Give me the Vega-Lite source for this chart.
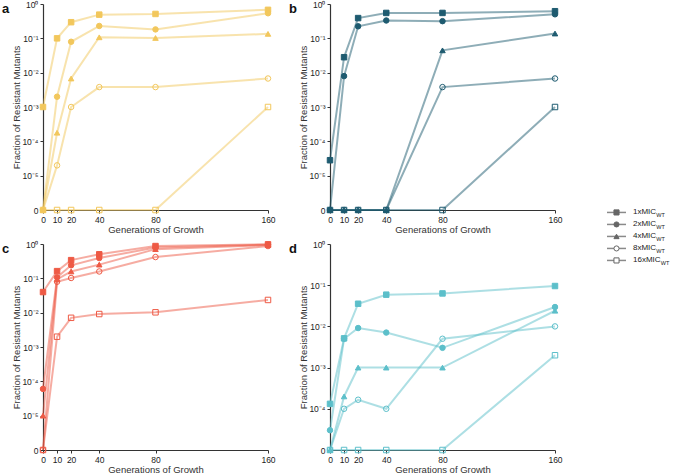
{
  "$schema": "https://vega.github.io/schema/vega-lite/v6.json",
  "background": "white",
  "padding": {"left": 2, "top": 0, "right": 0, "bottom": 0},
  "spacing": 43,
  "config": {
    "view": {"stroke": null},
    "font": "Liberation Sans",
    "axis": {
      "grid": false,
      "domainColor": "#333333",
      "domainWidth": 1.2,
      "tickColor": "#333333",
      "tickSize": 3,
      "tickWidth": 1,
      "labelFont": "Liberation Sans",
      "labelFontSize": 8.5,
      "labelColor": "#222222",
      "labelFlush": false,
      "labelOverlap": false,
      "labelPadding": 2,
      "titleFont": "Liberation Sans",
      "titleFontSize": 9.5,
      "titleFontWeight": "normal",
      "titleColor": "#333333",
      "titlePadding": 0.5
    },
    "title": {
      "font": "Liberation Sans",
      "fontSize": 13,
      "fontWeight": "bold",
      "color": "#111111",
      "anchor": "start",
      "frame": "group",
      "offset": -16,
      "dx": -41
    }
  },
  "datasets": {
    "a": [
      {"gen": 0, "series": "1xMIC", "log10_fraction": -3},
      {"gen": 10, "series": "1xMIC", "log10_fraction": -1.0},
      {"gen": 20, "series": "1xMIC", "log10_fraction": -0.53},
      {"gen": 40, "series": "1xMIC", "log10_fraction": -0.31},
      {"gen": 80, "series": "1xMIC", "log10_fraction": -0.29},
      {"gen": 160, "series": "1xMIC", "log10_fraction": -0.17},
      {"gen": 0, "series": "2xMIC", "log10_fraction": -6},
      {"gen": 10, "series": "2xMIC", "log10_fraction": -2.7},
      {"gen": 20, "series": "2xMIC", "log10_fraction": -1.1},
      {"gen": 40, "series": "2xMIC", "log10_fraction": -0.64},
      {"gen": 80, "series": "2xMIC", "log10_fraction": -0.74},
      {"gen": 160, "series": "2xMIC", "log10_fraction": -0.27},
      {"gen": 0, "series": "4xMIC", "log10_fraction": -6},
      {"gen": 10, "series": "4xMIC", "log10_fraction": -3.75},
      {"gen": 20, "series": "4xMIC", "log10_fraction": -2.17},
      {"gen": 40, "series": "4xMIC", "log10_fraction": -0.97},
      {"gen": 80, "series": "4xMIC", "log10_fraction": -0.99},
      {"gen": 160, "series": "4xMIC", "log10_fraction": -0.87},
      {"gen": 0, "series": "8xMIC", "log10_fraction": -6},
      {"gen": 10, "series": "8xMIC", "log10_fraction": -4.7},
      {"gen": 20, "series": "8xMIC", "log10_fraction": -3.0},
      {"gen": 40, "series": "8xMIC", "log10_fraction": -2.42},
      {"gen": 80, "series": "8xMIC", "log10_fraction": -2.42},
      {"gen": 160, "series": "8xMIC", "log10_fraction": -2.17},
      {"gen": 0, "series": "16xMIC", "log10_fraction": -6},
      {"gen": 10, "series": "16xMIC", "log10_fraction": -6},
      {"gen": 20, "series": "16xMIC", "log10_fraction": -6},
      {"gen": 40, "series": "16xMIC", "log10_fraction": -6},
      {"gen": 80, "series": "16xMIC", "log10_fraction": -6},
      {"gen": 160, "series": "16xMIC", "log10_fraction": -3.0}
    ],
    "b": [
      {"gen": 0, "series": "1xMIC", "log10_fraction": -4.55},
      {"gen": 10, "series": "1xMIC", "log10_fraction": -1.55},
      {"gen": 20, "series": "1xMIC", "log10_fraction": -0.41},
      {"gen": 40, "series": "1xMIC", "log10_fraction": -0.26},
      {"gen": 80, "series": "1xMIC", "log10_fraction": -0.26},
      {"gen": 160, "series": "1xMIC", "log10_fraction": -0.21},
      {"gen": 0, "series": "2xMIC", "log10_fraction": -6},
      {"gen": 10, "series": "2xMIC", "log10_fraction": -2.1},
      {"gen": 20, "series": "2xMIC", "log10_fraction": -0.65},
      {"gen": 40, "series": "2xMIC", "log10_fraction": -0.48},
      {"gen": 80, "series": "2xMIC", "log10_fraction": -0.5},
      {"gen": 160, "series": "2xMIC", "log10_fraction": -0.3},
      {"gen": 0, "series": "4xMIC", "log10_fraction": -6},
      {"gen": 10, "series": "4xMIC", "log10_fraction": -6},
      {"gen": 20, "series": "4xMIC", "log10_fraction": -6},
      {"gen": 40, "series": "4xMIC", "log10_fraction": -6},
      {"gen": 80, "series": "4xMIC", "log10_fraction": -1.35},
      {"gen": 160, "series": "4xMIC", "log10_fraction": -0.86},
      {"gen": 0, "series": "8xMIC", "log10_fraction": -6},
      {"gen": 10, "series": "8xMIC", "log10_fraction": -6},
      {"gen": 20, "series": "8xMIC", "log10_fraction": -6},
      {"gen": 40, "series": "8xMIC", "log10_fraction": -6},
      {"gen": 80, "series": "8xMIC", "log10_fraction": -2.42},
      {"gen": 160, "series": "8xMIC", "log10_fraction": -2.17},
      {"gen": 0, "series": "16xMIC", "log10_fraction": -6},
      {"gen": 10, "series": "16xMIC", "log10_fraction": -6},
      {"gen": 20, "series": "16xMIC", "log10_fraction": -6},
      {"gen": 40, "series": "16xMIC", "log10_fraction": -6},
      {"gen": 80, "series": "16xMIC", "log10_fraction": -6},
      {"gen": 160, "series": "16xMIC", "log10_fraction": -3.0}
    ],
    "c": [
      {"gen": 0, "series": "1xMIC", "log10_fraction": -1.4},
      {"gen": 10, "series": "1xMIC", "log10_fraction": -0.79},
      {"gen": 20, "series": "1xMIC", "log10_fraction": -0.47},
      {"gen": 40, "series": "1xMIC", "log10_fraction": -0.3},
      {"gen": 80, "series": "1xMIC", "log10_fraction": -0.06},
      {"gen": 160, "series": "1xMIC", "log10_fraction": -0.01},
      {"gen": 0, "series": "2xMIC", "log10_fraction": -4.22},
      {"gen": 10, "series": "2xMIC", "log10_fraction": -0.97},
      {"gen": 20, "series": "2xMIC", "log10_fraction": -0.62},
      {"gen": 40, "series": "2xMIC", "log10_fraction": -0.41},
      {"gen": 80, "series": "2xMIC", "log10_fraction": -0.1},
      {"gen": 160, "series": "2xMIC", "log10_fraction": -0.02},
      {"gen": 0, "series": "4xMIC", "log10_fraction": -5.0},
      {"gen": 10, "series": "4xMIC", "log10_fraction": -1.03},
      {"gen": 20, "series": "4xMIC", "log10_fraction": -0.8},
      {"gen": 40, "series": "4xMIC", "log10_fraction": -0.6},
      {"gen": 80, "series": "4xMIC", "log10_fraction": -0.15},
      {"gen": 160, "series": "4xMIC", "log10_fraction": -0.03},
      {"gen": 0, "series": "8xMIC", "log10_fraction": -6},
      {"gen": 10, "series": "8xMIC", "log10_fraction": -1.1},
      {"gen": 20, "series": "8xMIC", "log10_fraction": -0.99},
      {"gen": 40, "series": "8xMIC", "log10_fraction": -0.8},
      {"gen": 80, "series": "8xMIC", "log10_fraction": -0.38},
      {"gen": 160, "series": "8xMIC", "log10_fraction": -0.06},
      {"gen": 0, "series": "16xMIC", "log10_fraction": -6},
      {"gen": 10, "series": "16xMIC", "log10_fraction": -2.7},
      {"gen": 20, "series": "16xMIC", "log10_fraction": -2.15},
      {"gen": 40, "series": "16xMIC", "log10_fraction": -2.04},
      {"gen": 80, "series": "16xMIC", "log10_fraction": -1.99},
      {"gen": 160, "series": "16xMIC", "log10_fraction": -1.63}
    ],
    "d": [
      {"gen": 0, "series": "1xMIC", "log10_fraction": -3.88},
      {"gen": 10, "series": "1xMIC", "log10_fraction": -2.29},
      {"gen": 20, "series": "1xMIC", "log10_fraction": -1.45},
      {"gen": 40, "series": "1xMIC", "log10_fraction": -1.23},
      {"gen": 80, "series": "1xMIC", "log10_fraction": -1.2},
      {"gen": 160, "series": "1xMIC", "log10_fraction": -1.02},
      {"gen": 0, "series": "2xMIC", "log10_fraction": -4.52},
      {"gen": 10, "series": "2xMIC", "log10_fraction": -2.3},
      {"gen": 20, "series": "2xMIC", "log10_fraction": -2.04},
      {"gen": 40, "series": "2xMIC", "log10_fraction": -2.15},
      {"gen": 80, "series": "2xMIC", "log10_fraction": -2.52},
      {"gen": 160, "series": "2xMIC", "log10_fraction": -1.53},
      {"gen": 0, "series": "4xMIC", "log10_fraction": -5},
      {"gen": 10, "series": "4xMIC", "log10_fraction": -3.7},
      {"gen": 20, "series": "4xMIC", "log10_fraction": -3.0},
      {"gen": 40, "series": "4xMIC", "log10_fraction": -3.0},
      {"gen": 80, "series": "4xMIC", "log10_fraction": -3.0},
      {"gen": 160, "series": "4xMIC", "log10_fraction": -1.62},
      {"gen": 0, "series": "8xMIC", "log10_fraction": -5},
      {"gen": 10, "series": "8xMIC", "log10_fraction": -4.0},
      {"gen": 20, "series": "8xMIC", "log10_fraction": -3.78},
      {"gen": 40, "series": "8xMIC", "log10_fraction": -4.0},
      {"gen": 80, "series": "8xMIC", "log10_fraction": -2.3},
      {"gen": 160, "series": "8xMIC", "log10_fraction": -2.0},
      {"gen": 0, "series": "16xMIC", "log10_fraction": -5},
      {"gen": 10, "series": "16xMIC", "log10_fraction": -5},
      {"gen": 20, "series": "16xMIC", "log10_fraction": -5},
      {"gen": 40, "series": "16xMIC", "log10_fraction": -5},
      {"gen": 80, "series": "16xMIC", "log10_fraction": -5},
      {"gen": 160, "series": "16xMIC", "log10_fraction": -2.7}
    ],
    "legend": [
      {"series": "1xMIC", "sub": "WT", "order": 1},
      {"series": "2xMIC", "sub": "WT", "order": 2},
      {"series": "4xMIC", "sub": "WT", "order": 3},
      {"series": "8xMIC", "sub": "WT", "order": 4},
      {"series": "16xMIC", "sub": "WT", "order": 5}
    ]
  },
  "hconcat": [
    {
      "spacing": 5,
      "vconcat": [
        {
          "spacing": 13,
          "hconcat": [
            {
              "title": {"text": "a"},
              "width": 225, "height": 206,
              "data": {"name": "a"},
              "layer": [
                {"mark": {"type": "line", "stroke": "#F2C75C", "strokeOpacity": 0.5, "strokeWidth": 2},
                 "encoding": {
                   "x": {"field": "gen", "type": "quantitative", "scale": {"domain": [0, 160]}, "axis": {"values": [0, 10, 20, 40, 80, 160], "tickCount": 10, "title": "Generations of Growth"}},
                   "y": {"field": "log10_fraction", "type": "quantitative", "scale": {"domain": [-6, 0], "nice": false, "zero": false}, "axis": {"values": [-6, -5, -4, -3, -2, -1, 0], "tickCount": 10, "title": "Fraction of Resistant Mutants", "labelExpr": "datum.value <= -6 ? '0' : '10' + ['⁰','⁻¹','⁻²','⁻³','⁻⁴','⁻⁵'][-datum.value]"}},
                   "detail": {"field": "series"}}},
                {"mark": {"type": "point", "stroke": "#F2C75C", "strokeWidth": 1, "size": 30, "opacity": 1},
                 "encoding": {
                   "x": {"field": "gen", "type": "quantitative"},
                   "y": {"field": "log10_fraction", "type": "quantitative"},
                   "shape": {"field": "series", "type": "nominal", "scale": {"domain": ["1xMIC", "2xMIC", "4xMIC", "8xMIC", "16xMIC"], "range": ["square", "circle", "triangle-up", "circle", "square"]}, "legend": null},
                   "fill": {"condition": {"test": "datum.series == '8xMIC' || datum.series == '16xMIC'", "value": "transparent"}, "value": "#F2C75C"}}}
              ]
            },
            {
              "title": {"text": "b"},
              "width": 225, "height": 206,
              "data": {"name": "b"},
              "layer": [
                {"mark": {"type": "line", "stroke": "#1E5B70", "strokeOpacity": 0.5, "strokeWidth": 2},
                 "encoding": {
                   "x": {"field": "gen", "type": "quantitative", "scale": {"domain": [0, 160]}, "axis": {"values": [0, 10, 20, 40, 80, 160], "tickCount": 10, "title": "Generations of Growth"}},
                   "y": {"field": "log10_fraction", "type": "quantitative", "scale": {"domain": [-6, 0], "nice": false, "zero": false}, "axis": {"values": [-6, -5, -4, -3, -2, -1, 0], "tickCount": 10, "title": "Fraction of Resistant Mutants", "labelExpr": "datum.value <= -6 ? '0' : '10' + ['⁰','⁻¹','⁻²','⁻³','⁻⁴','⁻⁵'][-datum.value]"}},
                   "detail": {"field": "series"}}},
                {"mark": {"type": "point", "stroke": "#1E5B70", "strokeWidth": 1, "size": 30, "opacity": 1},
                 "encoding": {
                   "x": {"field": "gen", "type": "quantitative"},
                   "y": {"field": "log10_fraction", "type": "quantitative"},
                   "shape": {"field": "series", "type": "nominal", "scale": {"domain": ["1xMIC", "2xMIC", "4xMIC", "8xMIC", "16xMIC"], "range": ["square", "circle", "triangle-up", "circle", "square"]}, "legend": null},
                   "fill": {"condition": {"test": "datum.series == '8xMIC' || datum.series == '16xMIC'", "value": "transparent"}, "value": "#1E5B70"}}}
              ]
            }
          ]
        },
        {
          "spacing": 13,
          "hconcat": [
            {
              "title": {"text": "c"},
              "width": 225, "height": 206,
              "data": {"name": "c"},
              "layer": [
                {"mark": {"type": "line", "stroke": "#EE5A45", "strokeOpacity": 0.5, "strokeWidth": 2},
                 "encoding": {
                   "x": {"field": "gen", "type": "quantitative", "scale": {"domain": [0, 160]}, "axis": {"values": [0, 10, 20, 40, 80, 160], "tickCount": 10, "title": "Generations of Growth"}},
                   "y": {"field": "log10_fraction", "type": "quantitative", "scale": {"domain": [-6, 0], "nice": false, "zero": false}, "axis": {"values": [-6, -5, -4, -3, -2, -1, 0], "tickCount": 10, "title": "Fraction of Resistant Mutants", "labelExpr": "datum.value <= -6 ? '0' : '10' + ['⁰','⁻¹','⁻²','⁻³','⁻⁴','⁻⁵'][-datum.value]"}},
                   "detail": {"field": "series"}}},
                {"mark": {"type": "point", "stroke": "#EE5A45", "strokeWidth": 1, "size": 30, "opacity": 1},
                 "encoding": {
                   "x": {"field": "gen", "type": "quantitative"},
                   "y": {"field": "log10_fraction", "type": "quantitative"},
                   "shape": {"field": "series", "type": "nominal", "scale": {"domain": ["1xMIC", "2xMIC", "4xMIC", "8xMIC", "16xMIC"], "range": ["square", "circle", "triangle-up", "circle", "square"]}, "legend": null},
                   "fill": {"condition": {"test": "datum.series == '8xMIC' || datum.series == '16xMIC'", "value": "transparent"}, "value": "#EE5A45"}}}
              ]
            },
            {
              "title": {"text": "d"},
              "width": 225, "height": 206,
              "data": {"name": "d"},
              "layer": [
                {"mark": {"type": "line", "stroke": "#5CBFCA", "strokeOpacity": 0.5, "strokeWidth": 2},
                 "encoding": {
                   "x": {"field": "gen", "type": "quantitative", "scale": {"domain": [0, 160]}, "axis": {"values": [0, 10, 20, 40, 80, 160], "tickCount": 10, "title": "Generations of Growth"}},
                   "y": {"field": "log10_fraction", "type": "quantitative", "scale": {"domain": [-5, 0], "nice": false, "zero": false}, "axis": {"values": [-5, -4, -3, -2, -1, 0], "tickCount": 10, "title": "Fraction of Resistant Mutants", "labelExpr": "datum.value <= -5 ? '0' : '10' + ['⁰','⁻¹','⁻²','⁻³','⁻⁴'][-datum.value]"}},
                   "detail": {"field": "series"}}},
                {"mark": {"type": "point", "stroke": "#5CBFCA", "strokeWidth": 1, "size": 30, "opacity": 1},
                 "encoding": {
                   "x": {"field": "gen", "type": "quantitative"},
                   "y": {"field": "log10_fraction", "type": "quantitative"},
                   "shape": {"field": "series", "type": "nominal", "scale": {"domain": ["1xMIC", "2xMIC", "4xMIC", "8xMIC", "16xMIC"], "range": ["square", "circle", "triangle-up", "circle", "square"]}, "legend": null},
                   "fill": {"condition": {"test": "datum.series == '8xMIC' || datum.series == '16xMIC'", "value": "transparent"}, "value": "#5CBFCA"}}}
              ]
            }
          ]
        }
      ]
    },
    {
      "width": 60, "height": 450,
      "data": {"name": "legend"},
      "layer": [
        {"mark": {"type": "rule", "color": "#8a8a8a", "strokeWidth": 1.5},
         "encoding": {
           "x": {"datum": 0, "type": "quantitative", "scale": {"domain": [0, 60]}, "axis": null},
           "x2": {"datum": 19},
           "y": {"field": "order", "type": "quantitative", "scale": {"domain": [-16.37, 21.13], "reverse": true, "nice": false, "zero": false}, "axis": null}}},
        {"mark": {"type": "point", "stroke": "#666666", "strokeWidth": 1, "size": 26, "opacity": 1},
         "encoding": {
           "x": {"datum": 9.5, "type": "quantitative"},
           "y": {"field": "order", "type": "quantitative"},
           "shape": {"field": "series", "type": "nominal", "scale": {"domain": ["1xMIC", "2xMIC", "4xMIC", "8xMIC", "16xMIC"], "range": ["square", "circle", "triangle-up", "circle", "square"]}, "legend": null},
           "fill": {"condition": {"test": "datum.series == '8xMIC' || datum.series == '16xMIC'", "value": "white"}, "value": "#666666"}}},
        {"mark": {"type": "text", "align": "left", "baseline": "middle", "fontSize": 8, "color": "#222222", "font": "Liberation Sans"},
         "encoding": {
           "x": {"datum": 26, "type": "quantitative"},
           "y": {"field": "order", "type": "quantitative"},
           "text": {"field": "series"}}},
        {"transform": [{"filter": "datum.series != '16xMIC'"}],
         "mark": {"type": "text", "align": "left", "baseline": "middle", "fontSize": 5.5, "dx": 23.2, "dy": 2.5, "color": "#222222", "font": "Liberation Sans"},
         "encoding": {
           "x": {"datum": 26, "type": "quantitative"},
           "y": {"field": "order", "type": "quantitative"},
           "text": {"field": "sub"}}},
        {"transform": [{"filter": "datum.series == '16xMIC'"}],
         "mark": {"type": "text", "align": "left", "baseline": "middle", "fontSize": 5.5, "dx": 27.7, "dy": 2.5, "color": "#222222", "font": "Liberation Sans"},
         "encoding": {
           "x": {"datum": 26, "type": "quantitative"},
           "y": {"field": "order", "type": "quantitative"},
           "text": {"field": "sub"}}}
      ]
    }
  ]
}
